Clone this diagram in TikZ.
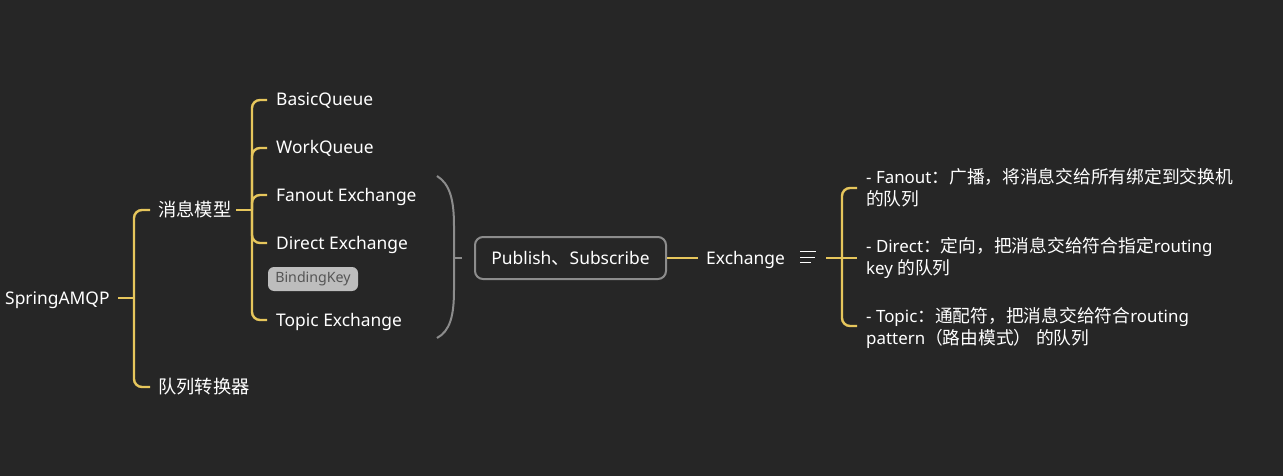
\documentclass[tikz,border=0pt]{standalone}
\usepackage{fontspec}
\setmainfont{Noto Sans}
\newfontfamily\cjk[Scale=1.05]{Noto Sans CJK SC}
\newcommand{\zh}[1]{{\cjk #1}}
\definecolor{bgc}{HTML}{262626}
\definecolor{ylw}{HTML}{E6C65C}
\definecolor{gry}{HTML}{8C8C8C}
\definecolor{tagfill}{HTML}{BDBDBD}
\definecolor{tagtext}{HTML}{555555}
\begin{document}
\begin{tikzpicture}[x=1pt,y=-1pt,
  txt/.style={anchor=base west,inner sep=0pt,text=white,font=\fontsize{17.4}{20}\selectfont},
  note/.style={anchor=west,inner sep=0pt,text=white,align=left,font=\fontsize{16.9}{22}\selectfont},
  ybr/.style={draw=ylw,line width=2.4pt,rounded corners=8pt},
  gbr/.style={draw=gry,line width=2pt},
  tag/.style={fill=tagfill,text=tagtext,rounded corners=6pt,minimum width=90pt,minimum height=24pt,inner sep=0pt,font=\fontsize{14.2}{16}\selectfont},
  pbox/.style={draw=gry,line width=2pt,fill=bgc,rounded corners=8pt,minimum width=191pt,minimum height=42pt,inner sep=0pt,text=white,font=\fontsize{17.4}{20}\selectfont},
  icon/.style={draw=white,line width=1pt}]
\fill[bgc] (0,0) rectangle (1283,476);
\useasboundingbox (0,0) rectangle (1283,476);

% nodes (baseline = row centre + 6)
\node[txt] (spring) at (5,304) {SpringAMQP};
\node[txt] (msg) at (158,216) {\zh{消息模型}};
\node[txt] (conv) at (158,393) {\zh{队列转换器}};
\node[txt] (bq) at (276,106) {BasicQueue};
\node[txt] (wq) at (276,154) {WorkQueue};
\node[txt] (fe) at (276,201) {Fanout Exchange};
\node[txt] (de) at (276,249) {Direct Exchange};
\node[tag] (bk) at (313,279) {BindingKey};
\node[txt] (te) at (276,326) {Topic Exchange};
\node[pbox] (pub) at (570.5,258) {Publish\zh{、}Subscribe};
\node[txt] (ex) at (706,264) {Exchange};
\node[note] (n1) at (866,188) {- Fanout\zh{：广播，将消息交给所有绑定到交换机}\\\zh{的队列}};
\node[note] (n2) at (866,258) {- Direct\zh{：定向，把消息交给符合指定}routing\\key \zh{的队列}};
\node[note] (n3) at (866,328) {- Topic\zh{：通配符，把消息交给符合}routing\\pattern\zh{（路由模式）} \zh{的队列}};

% junctions
\coordinate (j1) at (134,298);
\coordinate (j2) at (252,210);
\coordinate (j3) at (842,258);
\coordinate (gb) at (454,258);

% SpringAMQP branches
\draw[ybr] (118,298) -- (j1);
\draw[ybr] (j1) |- ([xshift=-8pt,yshift=6pt]msg.base west);
\draw[ybr] (j1) |- ([xshift=-8pt,yshift=6pt]conv.base west);

% message model branches
\draw[ybr] ([xshift=-16pt]j2) -- (j2);
\foreach \n in {bq,wq,fe,de,te}
  \draw[ybr] (j2) |- ([xshift=-9pt,yshift=6pt]\n.base west);

% gray summary bracket
\draw[gbr] (437,176) .. controls (450,184) and (454,200) .. (454,226)
  -- (454,290) .. controls (454,316) and (450,331) .. (437,338);
\draw[gbr] (gb) -- ([xshift=-12pt]pub.west);

% publish -> exchange
\draw[ybr] (pub.east) -- ([xshift=-8pt,yshift=6pt]ex.base west);

% notes icon
\coordinate (ic) at (800,257);
\draw[icon] ([yshift=6pt]ic) -- ++(16,0);
\draw[icon] (ic) -- ++(15,0);
\draw[icon] ([yshift=-5pt]ic) -- ++(11,0);

% exchange notes branches
\draw[ybr] ([xshift=26pt,yshift=-1pt]ic) -- (j3) -- ([xshift=-9pt]n2.west);
\draw[ybr] (j3) |- ([xshift=-9pt]n1.west);
\draw[ybr] (j3) |- ([xshift=-9pt,yshift=2pt]n3.west);
\end{tikzpicture}
\end{document}
